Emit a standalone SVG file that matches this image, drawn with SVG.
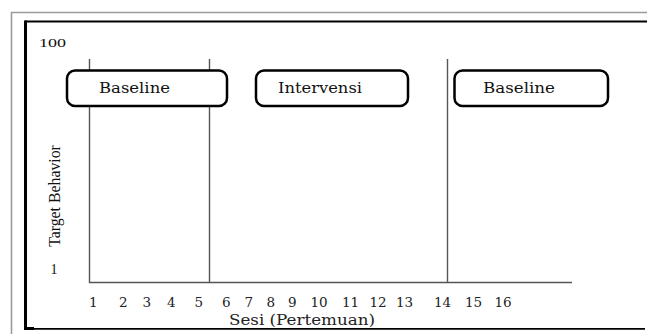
<svg xmlns="http://www.w3.org/2000/svg" width="647" height="334" viewBox="0 0 647 334">
<style>
.frame-outer{stroke:#9a9a9a;stroke-width:1.6;fill:none}
.frame-inner{stroke:#000;fill:none}
.axis{stroke:#555;stroke-width:1.4;fill:none}
.phase{fill:#fff;stroke:#000;stroke-width:2.5}
.lbl{font-family:"DejaVu Serif","Liberation Serif",serif;font-size:14.5px;fill:#111}
.tick{font-family:"DejaVu Serif","Liberation Serif",serif;font-size:13.5px;fill:#222}
.ylab{font-family:"Liberation Serif","Times New Roman",serif;fill:#111}
</style>
<rect width="647" height="334" fill="#fff"/>
<g id="frames">
<path class="frame-outer" d="M11.5,334 V12.5 H647"/>
<path class="frame-inner" stroke-width="2.2" d="M25,21.5 H647"/>
<path class="frame-inner" stroke-width="3" d="M25.5,20.5 V330"/>
<path class="frame-inner" stroke-width="1.8" d="M24,328.8 H645"/>
<path class="frame-inner" stroke-width="3" d="M24,328.5 H34"/>
</g>
<g id="connectors">
<path class="axis" d="M89.5,59 V282.5 H572"/>
<path class="axis" d="M209.5,59 V282"/>
<path class="axis" d="M447.5,59 V282"/>
</g>
<g id="node-baseline-1">
<rect class="phase" x="67" y="70.5" width="160" height="35.5" rx="8"/>
<text class="lbl" x="99" y="93" textLength="71" lengthAdjust="spacingAndGlyphs">Baseline</text>
</g>
<g id="node-intervensi">
<rect class="phase" x="256" y="70.5" width="152" height="35.5" rx="8"/>
<text class="lbl" x="278" y="93" textLength="84" lengthAdjust="spacingAndGlyphs">Intervensi</text>
</g>
<g id="node-baseline-2">
<rect class="phase" x="454.5" y="70.5" width="153.5" height="35.5" rx="8"/>
<text class="lbl" x="483" y="93" textLength="72" lengthAdjust="spacingAndGlyphs">Baseline</text>
</g>
<g id="y-axis-labels">
<text class="ylab" x="39" y="47" font-size="13.5" textLength="27" lengthAdjust="spacingAndGlyphs">100</text>
<text class="ylab" x="50.5" y="274" font-size="14">1</text>
<text class="ylab" font-size="15.8" text-anchor="middle" transform="translate(60,196) rotate(-90)">Target Behavior</text>
</g>
<g id="x-axis-labels" class="tick">
<text x="89" y="307">1</text>
<text x="119" y="307">2</text>
<text x="142.5" y="307">3</text>
<text x="167" y="307">4</text>
<text x="194.5" y="307">5</text>
<text x="222" y="307">6</text>
<text x="244.5" y="307">7</text>
<text x="266.5" y="307">8</text>
<text x="288" y="307">9</text>
<text x="310.5" y="307">10</text>
<text x="342" y="307">11</text>
<text x="369.5" y="307">12</text>
<text x="396" y="307">13</text>
<text x="434" y="307">14</text>
<text x="465" y="307">15</text>
<text x="494.5" y="307">16</text>
<text x="229" y="324.5" font-size="14" textLength="146" lengthAdjust="spacingAndGlyphs">Sesi (Pertemuan)</text>
</g>
</svg>
